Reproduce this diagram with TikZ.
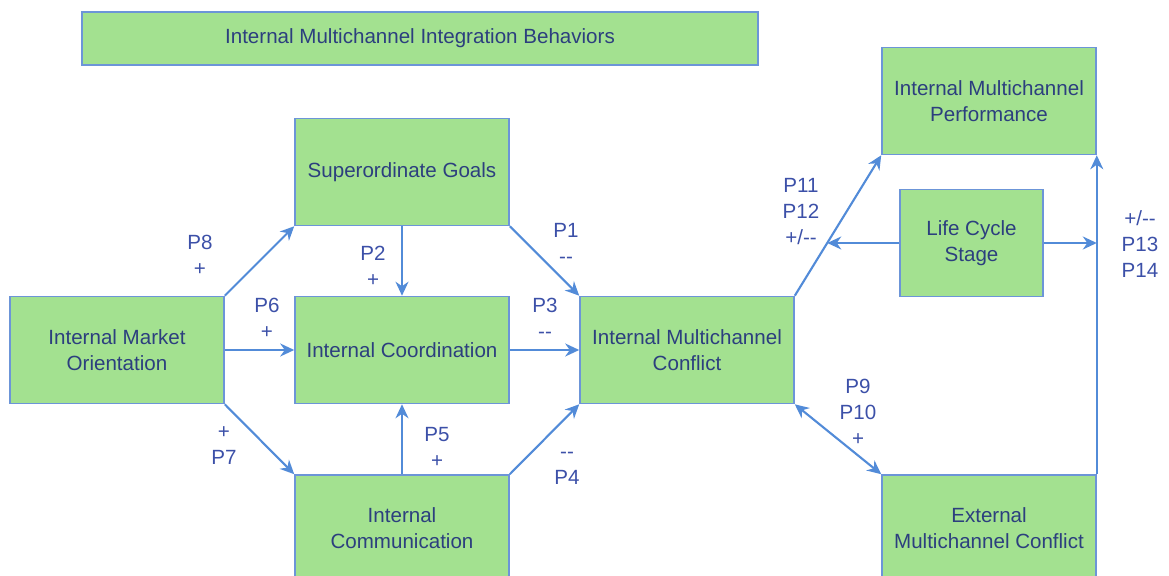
\documentclass[tikz,border=0pt]{standalone}
\usepackage{fontspec}
\setmainfont{Liberation Sans}
\usetikzlibrary{arrows.meta,positioning,calc}
\definecolor{boxfill}{HTML}{A3E190}
\definecolor{boxline}{HTML}{6C95D8}
\definecolor{flowblue}{HTML}{528BD8}
\definecolor{boxtext}{HTML}{2C3F7E}
\definecolor{labtext}{HTML}{3C50A8}
\tikzset{
  cbox/.style={draw=boxline,fill=boxfill,line width=0.9pt,align=center,text=boxtext,font=\fontsize{11.7}{14.8}\selectfont,inner sep=2pt},
  flow/.style={-{Stealth[length=2.8mm,width=2.6mm]},line width=1.2pt,color=flowblue},
  plab/.style={align=center,text=labtext,font=\fontsize{11.7}{14.8}\selectfont,inner sep=0pt},
}

\begin{document}
\begin{tikzpicture}[
  b/.style={cbox,minimum width=4.28cm,minimum height=2.14cm}]
  \path[use as bounding box,clip] (0,0) rectangle (23.38,11.52);
  % title bar
  \node[cbox,minimum width=13.52cm,minimum height=1.06cm] (title) at (8.40,10.75) {Internal Multichannel Integration Behaviors};
  % antecedents and integration behaviors
  \node[b] (imo) at (2.34,4.52) {Internal Market\\Orientation};
  \node[b] (sg) at (8.04,8.08) {Superordinate Goals};
  \node[b] (ic) at (8.04,4.52) {Internal Coordination};
  \node[b] (icom) at (8.04,0.95) {Internal\\Communication};
  % conflict and outcomes
  \node[b] (imc) at (13.74,4.52) {Internal Multichannel\\Conflict};
  \node[b] (perf) at (19.78,9.50) {Internal Multichannel\\Performance};
  \node[b,minimum width=2.86cm] (lcs) at (19.43,6.66) {Life Cycle\\Stage};
  \node[b] (ext) at (19.78,0.95) {External\\Multichannel Conflict};
  % arrows
  \draw[flow] (imo.north east) -- (sg.south west);
  \draw[flow] (imo.east) -- (ic.west);
  \draw[flow] (imo.south east) -- (icom.north west);
  \draw[flow] (sg.south) -- (ic.north);
  \draw[flow] (icom.north) -- (ic.south);
  \draw[flow] (sg.south east) -- (imc.north west);
  \draw[flow] (ic.east) -- (imc.west);
  \draw[flow] (icom.north east) -- (imc.south west);
  \draw[flow] (imc.north east) -- (perf.south west);
  \draw[flow,{Stealth[length=2.8mm,width=2.6mm]}-{Stealth[length=2.8mm,width=2.6mm]}] (imc.south east) -- (ext.north west);
  \draw[flow] (ext.north east) -- (perf.south east);
  % moderator
  \coordinate (lcsL) at ($(imc.north east)!0.376!(perf.south west)$);
  \draw[flow] (lcs.west) -- (lcs.west -| lcsL);
  \draw[flow] (lcs.east) -- (lcs.east -| perf.south east);
  % propositions
  \node[plab] (p8) at (4.00,6.42) {P8\\+};
  \node[plab] (p6) at (5.34,5.16) {P6\\+};
  \node[plab] (p7) at (4.48,2.60) {+\\P7};
  \node[plab] (p2) at (7.46,6.20) {P2\\+};
  \node[plab] (p5) at (8.74,2.58) {P5\\+};
  \node[plab] (p1) at (11.32,6.66) {P1\\-{}-};
  \node[plab] (p3) at (10.90,5.16) {P3\\-{}-};
  \node[plab] (p4) at (11.34,2.16) {-{}-\\P4};
  \node[plab] (p11) at (16.02,7.28) {P11\\P12\\+/-{}-};
  \node[plab] (p9) at (17.16,3.28) {P9\\P10\\+};
  \node[plab] (p13) at (22.80,6.64) {+/-{}-\\P13\\P14};
\end{tikzpicture}
\end{document}
